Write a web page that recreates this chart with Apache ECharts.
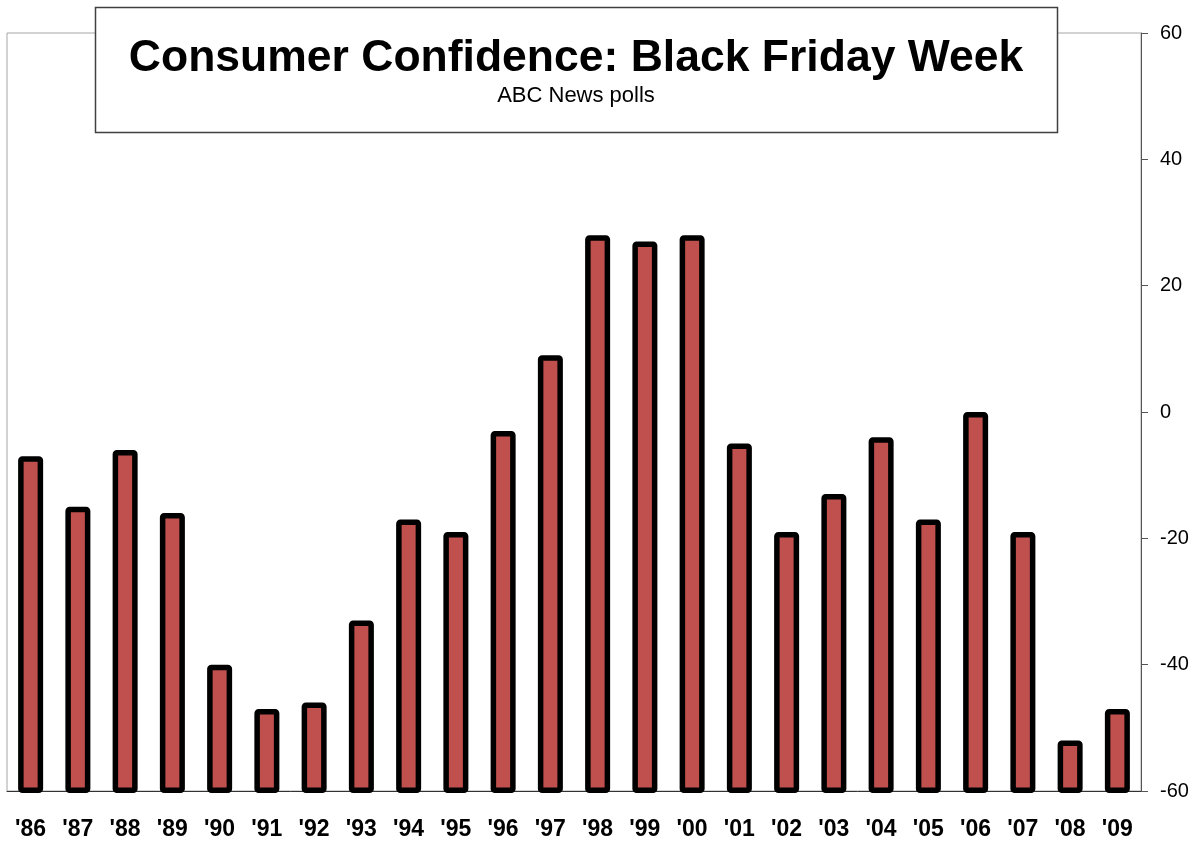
<!DOCTYPE html>
<html>
<head>
<meta charset="utf-8">
<script src="https://cdn.jsdelivr.net/npm/echarts@6/dist/echarts.min.js"></script>
<style>
  html, body { margin: 0; padding: 0; background: #fff; }
  #chart { width: 1196px; height: 842px; }
</style>
</head>
<body>
<div id="chart"></div>
<script>
// data
var years = ["'86", "'87", "'88", "'89", "'90", "'91", "'92", "'93", "'94", "'95", "'96", "'97",
             "'98", "'99", "'00", "'01", "'02", "'03", "'04", "'05", "'06", "'07", "'08", "'09"];
var confidence = [-7, -15, -6, -16, -40, -47, -46, -33, -17, -19, -3, 9,
                  28, 27, 28, -5, -19, -13, -4, -17, 0, -19, -52, -47];
var yMin = -60;
var yMax = 60;
var yStep = 20;

var font = "Arial, 'Liberation Sans', sans-serif";
var myChart = echarts.init(document.getElementById("chart"));

// bars grow from the bottom of the axis (-60), border drawn inside the bar like Excel
function renderBar(params, api) {
  var top = api.coord([api.value(0), api.value(1)]);
  var base = api.coord([api.value(0), yMin]);
  var w = 25;
  var bw = 5.5;
  return {
    type: "rect",
    shape: {
      x: top[0] - w / 2 + bw / 2,
      y: top[1] + bw / 2,
      width: w - bw,
      height: base[1] - top[1] + 2 - bw,
      r: 1.5
    },
    style: { fill: "#C0504D", stroke: "#000", lineWidth: bw }
  };
}

var option = {
  backgroundColor: "#fff",
  animation: false,
  grid: {
    left: 7,
    right: 55,
    top: 33,
    bottom: 51,
    show: true,
    borderColor: "#a6a6a6",
    borderWidth: 1
  },
  xAxis: {
    type: "category",
    data: years,
    axisLine: { onZero: false, lineStyle: { color: "#333", width: 1 } },
    axisTick: { show: false },
    axisLabel: {
      color: "#000",
      fontFamily: font,
      fontWeight: "bold",
      fontSize: 23,
      margin: 27
    },
    splitLine: { show: false }
  },
  yAxis: {
    type: "value",
    position: "right",
    min: yMin,
    max: yMax,
    interval: yStep,
    axisLine: { show: true, lineStyle: { color: "#555", width: 1 } },
    axisTick: { show: true, length: 7, lineStyle: { color: "#555" } },
    axisLabel: {
      color: "#000",
      fontFamily: font,
      fontSize: 20,
      margin: 19
    },
    splitLine: { show: false }
  },
  graphic: [
    {
      type: "rect",
      z: 100,
      shape: { x: 95.5, y: 7.5, width: 962, height: 125 },
      style: { fill: "#fff", stroke: "#404040", lineWidth: 1.5 }
    },
    {
      type: "text",
      z: 101,
      x: 576,
      y: 59,
      style: {
        text: "Consumer Confidence: Black Friday Week",
        fill: "#000",
        font: "bold 44.5px " + font,
        textAlign: "center",
        textVerticalAlign: "middle"
      }
    },
    {
      type: "text",
      z: 101,
      x: 576,
      y: 96,
      style: {
        text: "ABC News polls",
        fill: "#000",
        font: "22px " + font,
        textAlign: "center",
        textVerticalAlign: "middle"
      }
    }
  ],
  series: [
    {
      name: "Consumer Confidence",
      type: "custom",
      renderItem: renderBar,
      encode: { x: 0, y: 1 },
      data: confidence.map(function (v, i) { return [i, v]; })
    }
  ]
};

myChart.setOption(option);
</script>
</body>
</html>
